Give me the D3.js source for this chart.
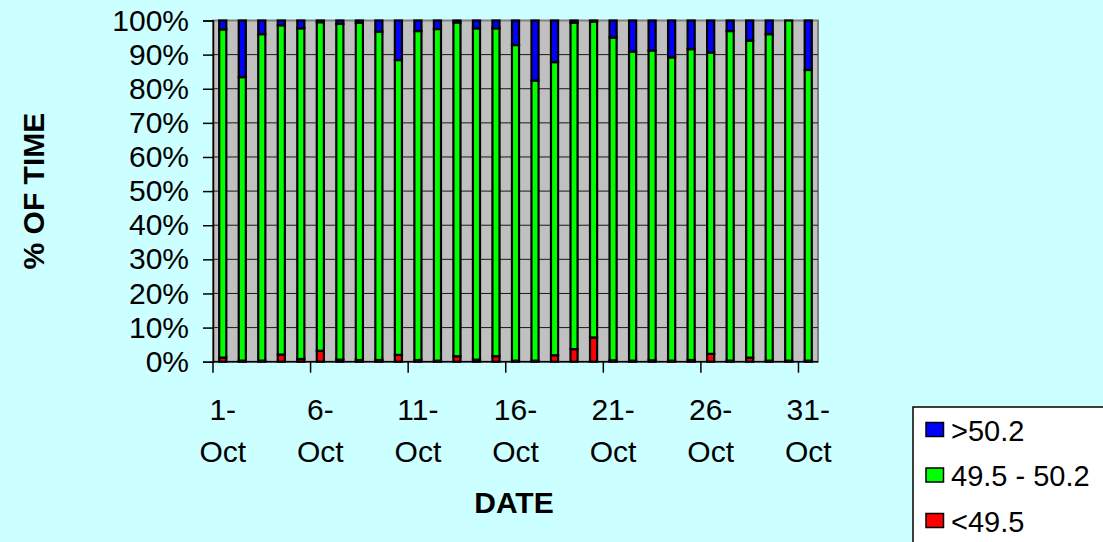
<!DOCTYPE html>
<html>
<head>
<meta charset="utf-8">
<script src="https://cdn.jsdelivr.net/npm/d3@7"></script>
<style>
  body { margin: 0; background: #CCFFFF; }
  svg { display: block; font-family: "Liberation Sans", Arial, sans-serif; }
</style>
</head>
<body>
<div id="container"></div>
<script>
// DATA (percent of time per day)
const days = d3.range(1, 32).map(d => d + "-Oct");
const below = [1.2, 0.3, 0.3, 2.1, 0.8, 3.2, 0.6, 0.5, 0.5, 2.0, 0.5, 0.3, 1.6, 0.6, 1.6, 0.3,
               0.3, 1.9, 3.7, 7.1, 0.4, 0.3, 0.4, 0.3, 0.5, 2.3, 0.3, 1.2, 0.3, 0.3, 0.3];
const inside = [96.2, 83.1, 95.7, 96.5, 96.9, 96.3, 98.4, 98.8, 96.2, 86.4, 96.4, 97.2, 97.8, 97.1, 96.1, 92.5,
                82.1, 85.9, 95.6, 92.6, 94.6, 90.6, 90.8, 88.9, 91.1, 88.3, 96.6, 92.9, 95.7, 99.7, 85.2];
const above = [2.6, 16.6, 4.0, 1.4, 2.3, 0.5, 1.0, 0.7, 3.3, 11.6, 3.1, 2.5, 0.6, 2.3, 2.3, 7.2,
               17.6, 12.2, 0.7, 0.3, 5.0, 9.1, 8.8, 10.8, 8.4, 9.4, 3.1, 5.9, 4.0, 0.0, 14.5];
const seriesNames = ["<49.5", "49.5 - 50.2", ">50.2"];
const yTicks = [0, 10, 20, 30, 40, 50, 60, 70, 80, 90, 100];

const width = 1103, height = 542;
const plot = {left: 213, right: 818, top: 20.5, bottom: 361.7};

const table = days.map((d, i) => ({day: d, "<49.5": below[i], "49.5 - 50.2": inside[i], ">50.2": above[i]}));
const stacked = d3.stack().keys(seriesNames)(table);

// SCALES
const xScale = d3.scaleBand().domain(days).range([plot.left, plot.right]);
const yScale = d3.scaleLinear().domain([0, 100]).range([plot.bottom, plot.top]);
const colorScale = d3.scaleOrdinal().domain(seriesNames).range(["#FF0000", "#00FF00", "#0000FF"]);

const svg = d3.select("#container").append("svg")
  .attr("width", width)
  .attr("height", height);

svg.append("rect").attr("width", width).attr("height", height).attr("fill", "#CCFFFF");

// PLOT AREA
svg.append("rect")
  .attr("x", plot.left).attr("y", plot.top)
  .attr("width", plot.right - plot.left).attr("height", plot.bottom - plot.top)
  .attr("fill", "#C0C0C0")
  .attr("stroke", "#808080")
  .attr("stroke-width", 2);

// gridlines
svg.append("g")
  .selectAll("line")
  .data(yTicks.slice(1, -1))
  .join("line")
    .attr("x1", plot.left).attr("x2", plot.right)
    .attr("y1", d => yScale(d)).attr("y2", d => yScale(d))
    .attr("stroke", "#1a1a1a")
    .attr("stroke-width", 1);

// BARS
const barW = 7.1;
svg.append("g")
  .selectAll("g")
  .data(stacked)
  .join("g")
    .attr("fill", d => colorScale(d.key))
  .selectAll("rect")
  .data(d => d)
  .join("rect")
    .attr("x", d => xScale(d.data.day) + xScale.bandwidth() / 2 - barW / 2)
    .attr("y", d => yScale(d[1]))
    .attr("width", barW)
    .attr("height", d => yScale(d[0]) - yScale(d[1]))
    .attr("stroke", "#000")
    .attr("stroke-width", 2.2);

// AXES
const yAxis = d3.axisLeft(yScale)
  .tickValues(yTicks)
  .tickFormat(d => d + "%")
  .tickSize(10)
  .tickPadding(14);

svg.append("g")
  .attr("transform", `translate(${plot.left},0)`)
  .call(yAxis)
  .call(g => g.select(".domain").attr("stroke", "#000").attr("stroke-width", 1.5))
  .call(g => g.selectAll(".tick line").attr("stroke", "#000").attr("stroke-width", 1.5))
  .call(g => g.selectAll("text").attr("font-size", "30px").attr("fill", "#000")
    .attr("font-family", "Liberation Sans, Arial, sans-serif"));

// x axis line + ticks at every fifth category boundary
const xg = svg.append("g");
xg.append("line")
  .attr("x1", plot.left).attr("x2", plot.right)
  .attr("y1", plot.bottom).attr("y2", plot.bottom)
  .attr("stroke", "#000").attr("stroke-width", 1.5);

const labelDays = days.filter((d, i) => i % 5 === 0);
xg.selectAll("line.tick")
  .data(labelDays)
  .join("line")
    .attr("class", "tick")
    .attr("x1", d => xScale(d)).attr("x2", d => xScale(d))
    .attr("y1", plot.bottom).attr("y2", plot.bottom + 11)
    .attr("stroke", "#000").attr("stroke-width", 1.5);

const xLabels = xg.selectAll("text")
  .data(labelDays)
  .join("text")
    .attr("text-anchor", "middle")
    .attr("font-size", "30px")
    .attr("fill", "#000");
xLabels.append("tspan")
  .attr("x", d => xScale(d) + xScale.bandwidth() / 2)
  .attr("y", 420)
  .text(d => d.split("-")[0] + "-");
xLabels.append("tspan")
  .attr("x", d => xScale(d) + xScale.bandwidth() / 2)
  .attr("y", 461.5)
  .text(d => d.split("-")[1]);

// AXIS TITLES
svg.append("text")
  .attr("x", 514).attr("y", 513)
  .attr("text-anchor", "middle")
  .attr("font-size", "30px")
  .attr("font-weight", "bold")
  .text("DATE");

svg.append("text")
  .attr("transform", `translate(44,${(plot.top + plot.bottom) / 2}) rotate(-90)`)
  .attr("text-anchor", "middle")
  .attr("font-size", "30px")
  .attr("font-weight", "bold")
  .text("% OF TIME");

// LEGEND
const legend = svg.append("g");
legend.append("rect")
  .attr("x", 913).attr("y", 407)
  .attr("width", 220).attr("height", 160)
  .attr("fill", "#FFFFFF")
  .attr("stroke", "#000")
  .attr("stroke-width", 1.5);

const legendNames = seriesNames.slice().reverse();
legend.selectAll("rect.swatch")
  .data(legendNames)
  .join("rect")
    .attr("class", "swatch")
    .attr("x", 926)
    .attr("y", (d, i) => 422.5 + i * 45.5)
    .attr("width", 17.5)
    .attr("height", 14)
    .attr("fill", colorScale)
    .attr("stroke", "#000")
    .attr("stroke-width", 1.5);

legend.selectAll("text")
  .data(legendNames)
  .join("text")
    .attr("x", 951)
    .attr("y", (d, i) => 440.5 + i * 45.5)
    .attr("font-size", "29px")
    .attr("fill", "#000")
    .text(d => d);
</script>
</body>
</html>
